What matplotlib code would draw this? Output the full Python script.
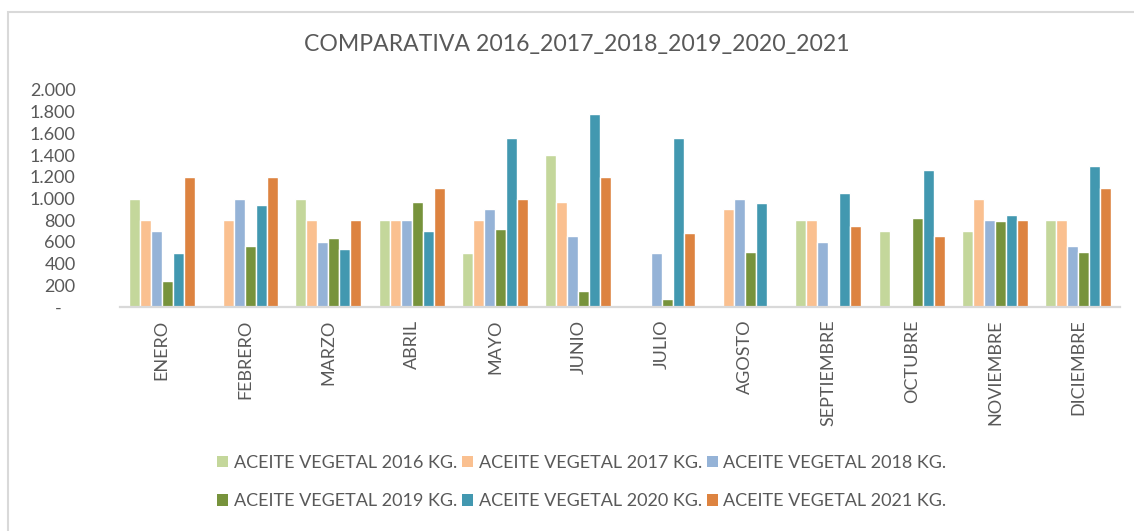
import numpy as np
import matplotlib
matplotlib.use("Agg")
import matplotlib.pyplot as plt
from matplotlib.patches import Patch, Rectangle
from matplotlib.ticker import FuncFormatter

nan = np.nan
months = ["ENERO", "FEBRERO", "MARZO", "ABRIL", "MAYO", "JUNIO", "JULIO",
          "AGOSTO", "SEPTIEMBRE", "OCTUBRE", "NOVIEMBRE", "DICIEMBRE"]
series_names = ["ACEITE VEGETAL 2016 KG.", "ACEITE VEGETAL 2017 KG.",
                "ACEITE VEGETAL 2018 KG.", "ACEITE VEGETAL 2019 KG.",
                "ACEITE VEGETAL 2020 KG.", "ACEITE VEGETAL 2021 KG."]
v2016 = [1000, nan, 1000, 800, 500, 1400, nan, nan, 800, 700, 700, 800]
v2017 = [800, 800, 800, 800, 800, 970, nan, 900, 800, nan, 1000, 800]
v2018 = [700, 1000, 600, 800, 900, 650, 500, 1000, 600, nan, 800, 560]
v2019 = [240, 560, 640, 970, 720, 150, 70, 510, nan, 820, 790, 510]
v2020 = [500, 940, 530, 700, 1560, 1780, 1560, 960, 1050, 1260, 850, 1300]
v2021 = [1200, 1200, 800, 1100, 1000, 1200, 680, nan, 750, 650, 800, 1100]
series = [v2016, v2017, v2018, v2019, v2020, v2021]
colors = ["#C4D79B", "#FAC090", "#95B3D7", "#77933C", "#4298B0", "#DD8340"]

plt.rcParams['font.family'] = ['Lato', 'DejaVu Sans']
txt = "#595959"

W, H = 1134, 531
fig = plt.figure(figsize=(W / 100, H / 100), dpi=100)
ax = fig.add_axes([120 / W, 1 - 307 / H, 1000 / W, 217 / H])

x = np.arange(len(months))
w = 0.132
for k, (vals, c) in enumerate(zip(series, colors)):
    ax.bar(x + (k - 2.5) * w, vals, width=w, color=c, edgecolor="white",
           linewidth=1.0, label=series_names[k])

ax.set_xlim(-0.5, len(months) - 0.5)
ax.set_ylim(0, 2000)
ax.set_yticks(np.arange(0, 2001, 200))

def fmt(v, pos):
    if v == 0:
        return "-   "
    return f"{int(v):,}".replace(",", ".")

ax.yaxis.set_major_formatter(FuncFormatter(fmt))
ax.set_xticks(x)
ax.set_xticklabels(months, rotation=90, va="top")
ax.tick_params(axis="y", length=0, pad=32, labelsize=13, labelcolor=txt)
ax.tick_params(axis="x", length=0, pad=9, labelsize=13, labelcolor=txt)
for s in ["top", "right", "left"]:
    ax.spines[s].set_visible(False)
ax.spines["bottom"].set_color("#D9D9D9")
ax.spines["bottom"].set_linewidth(1.6)

fig.text(577 / W, 1 - 45 / H, "COMPARATIVA 2016_2017_2018_2019_2020_2021",
         ha="center", va="center", fontsize=16.6, color=txt)

handles = [Patch(facecolor=c, edgecolor="none") for c in colors]
order = [0, 3, 1, 4, 2, 5]
leg = fig.legend([handles[i] for i in order], [series_names[i] for i in order],
                 ncol=3, loc="center", bbox_to_anchor=(582 / W, 1 - 482 / H),
                 frameon=False, fontsize=13, handlelength=0.6, handleheight=0.6,
                 handletextpad=0.3, columnspacing=0.3, labelspacing=1.25)
for t in leg.get_texts():
    t.set_color(txt)

fig.patches.append(Rectangle((8 / W, -0.2), 1.3, 1.2 - 12 / H, transform=fig.transFigure,
                             fill=False, edgecolor="#D9D9D9", linewidth=1.5))

fig.savefig("out.png", dpi=100, facecolor="white")
